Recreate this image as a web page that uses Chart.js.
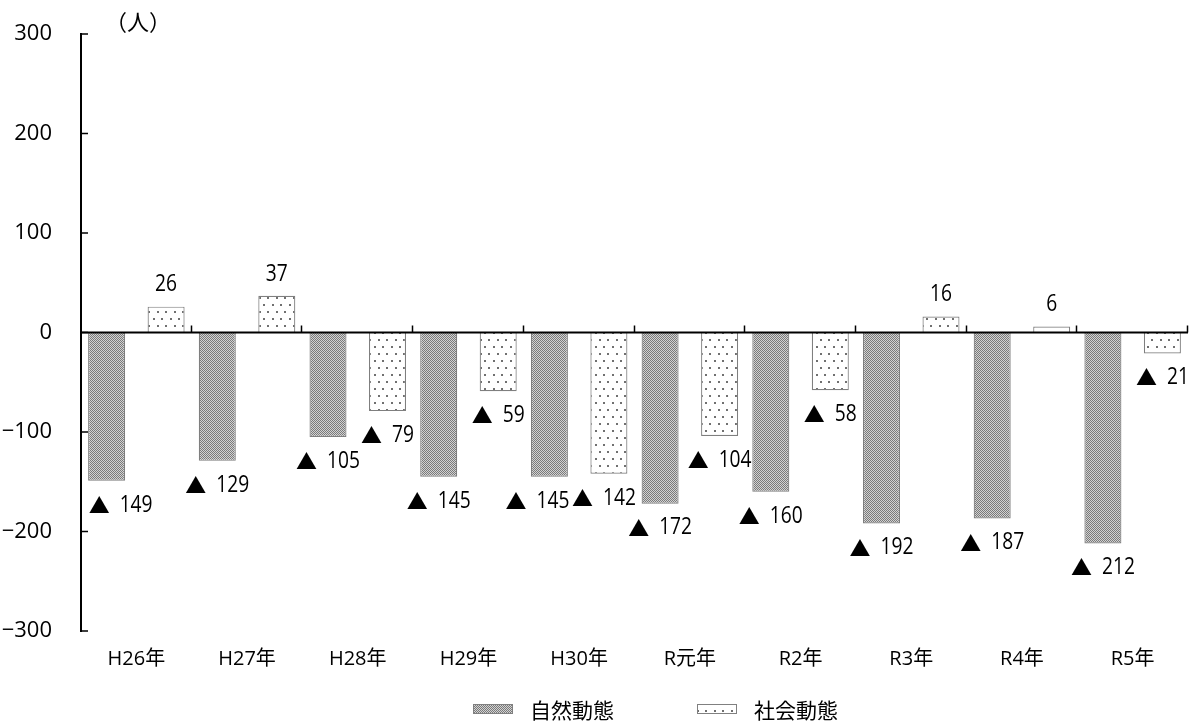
<!DOCTYPE html>
<html>
<head>
<meta charset="utf-8">
<script src="https://cdn.jsdelivr.net/npm/chart.js@4.4.1/dist/chart.umd.min.js"></script>
<style>
  html, body { margin: 0; padding: 0; background: #fff; }
  #wrap { width: 1193px; height: 722px; position: relative; }
</style>
</head>
<body>
<div id="wrap"><canvas id="c" width="1193" height="722"></canvas></div>
<script>
// 人口動態（自然動態・社会動態）の推移
const categories = ['H26年', 'H27年', 'H28年', 'H29年', 'H30年', 'R元年', 'R2年', 'R3年', 'R4年', 'R5年'];
const naturalChange = [-149, -129, -105, -145, -145, -172, -160, -192, -187, -212];
const socialChange = [26, 37, -79, -59, -142, -104, -58, 16, 6, -21];
const seriesNames = ['自然動態', '社会動態'];
const yTickValues = [-300, -200, -100, 0, 100, 200, 300];
const unitText = '（人）';

const NUM_FONT = "'Open Sans', 'Noto Sans', 'Noto Sans CJK JP', sans-serif";
const CJK_FONT = "'Noto Sans CJK JP', sans-serif";

const canvas = document.getElementById('c');
const mainCtx = canvas.getContext('2d');

// fine grey checker fill
function makeChecker() {
  const t = document.createElement('canvas');
  t.width = 4; t.height = 4;
  const g = t.getContext('2d');
  g.fillStyle = '#d2d2d2';
  g.fillRect(0, 0, 4, 4);
  g.fillStyle = '#7a7a7a';
  for (let y = 0; y < 4; y++) for (let x = 0; x < 4; x++) if ((x + y) % 2 === 0) g.fillRect(x, y, 1, 1);
  return mainCtx.createPattern(t, 'repeat');
}
// sparse staggered dots on white
function makeDots() {
  const t = document.createElement('canvas');
  t.width = 17; t.height = 14;
  const g = t.getContext('2d');
  g.fillStyle = '#ffffff';
  g.fillRect(0, 0, 17, 14);
  g.fillStyle = '#707070';
  [[4, 3], [12, 3], [0, 10], [8, 10]].forEach(([x, y]) => g.fillRect(x, y, 2, 2));
  return mainCtx.createPattern(t, 'repeat');
}
const checkerFill = makeChecker();
const dotFill = makeDots();

// zero line, inward ticks on both axes
const axisMarks = {
  id: 'axisMarks',
  afterDatasetsDraw(chart) {
    const { ctx, chartArea: a, scales: { x, y } } = chart;
    const y0 = y.getPixelForValue(0);
    ctx.save();
    ctx.strokeStyle = '#000';
    ctx.lineWidth = 2;
    ctx.beginPath();
    ctx.moveTo(a.left, y0);
    ctx.lineTo(a.right, y0);
    ctx.stroke();
    ctx.lineWidth = 1.5;
    const n = x.ticks.length;
    const step = (a.right - a.left) / n;
    ctx.beginPath();
    for (let i = 1; i <= n; i++) {
      const px = Math.round(a.left + i * step) - 0.5;
      ctx.moveTo(px, y0);
      ctx.lineTo(px, y0 - 7);
    }
    yTickValues.forEach(v => {
      const py = y.getPixelForValue(v);
      ctx.moveTo(a.left, py);
      ctx.lineTo(a.left + 7, py);
    });
    ctx.stroke();
    ctx.restore();
  }
};

// text squeezed horizontally around its anchor
function narrowText(ctx, text, x, y, align, squeeze) {
  ctx.save();
  ctx.translate(x, y);
  ctx.scale(squeeze, 1);
  ctx.textAlign = align;
  ctx.fillText(text, 0, 0);
  ctx.restore();
}

// value labels; negatives are written with ▲
const valueLabels = {
  id: 'valueLabels',
  afterDatasetsDraw(chart, args, opts) {
    const ctx = chart.ctx;
    const sq = opts.squeeze;
    ctx.save();
    ctx.fillStyle = '#000';
    ctx.textBaseline = 'middle';
    chart.data.datasets.forEach((ds, di) => {
      const meta = chart.getDatasetMeta(di);
      const shifts = opts.shift[di] || [];
      meta.data.forEach((bar, i) => {
        const v = ds.data[i];
        const cx = bar.x + (shifts[i] || 0);
        ctx.font = '24px ' + NUM_FONT;
        if (v < 0) {
          const num = String(Math.abs(v));
          const numW = ctx.measureText(num).width * sq;
          ctx.font = '21px ' + CJK_FONT;
          const triW = ctx.measureText('▲').width;
          const gap = 10;
          const left = cx - (triW + gap + numW) / 2;
          const ly = bar.y + 24;
          ctx.textAlign = 'left';
          ctx.fillText('▲', left, ly);
          ctx.font = '24px ' + NUM_FONT;
          narrowText(ctx, num, left + triW + gap, ly, 'left', sq);
        } else {
          narrowText(ctx, String(v), cx, bar.y - 22, 'center', sq);
        }
      });
    });
    ctx.restore();
  }
};

// unit caption and bottom legend
const decorations = {
  id: 'decorations',
  afterDraw(chart) {
    const { ctx, chartArea: a } = chart;
    ctx.save();
    ctx.fillStyle = '#000';
    ctx.textBaseline = 'middle';
    ctx.textAlign = 'center';
    ctx.font = '22px ' + CJK_FONT;
    ctx.fillText(unitText, a.left + 57, 22);

    const fills = [checkerFill, dotFill];
    const xs = [473, 697];
    const ly = 710;
    ctx.font = '21px ' + CJK_FONT;
    ctx.textAlign = 'left';
    seriesNames.forEach((name, i) => {
      ctx.fillStyle = fills[i];
      ctx.fillRect(xs[i], ly - 6, 40, 10);
      ctx.strokeStyle = '#808080';
      ctx.lineWidth = 1;
      ctx.strokeRect(xs[i] + 0.5, ly - 5.5, 39, 9);
      ctx.fillStyle = '#000';
      ctx.fillText(name, xs[i] + 57, ly);
    });
    ctx.restore();
  }
};

new Chart(canvas, {
  type: 'bar',
  data: {
    labels: categories,
    datasets: [
      {
        label: seriesNames[0],
        data: naturalChange,
        backgroundColor: checkerFill,
        borderColor: '#7f7f7f',
        borderWidth: 1.2,
        categoryPercentage: 1.075,
        barPercentage: 0.622
      },
      {
        label: seriesNames[1],
        data: socialChange,
        backgroundColor: dotFill,
        borderColor: '#7f7f7f',
        borderWidth: 1.2,
        categoryPercentage: 1.075,
        barPercentage: 0.622
      }
    ]
  },
  options: {
    responsive: false,
    animation: false,
    layout: { padding: { left: 0, right: 5, top: 34, bottom: 31 } },
    plugins: {
      legend: { display: false },
      tooltip: { enabled: false },
      valueLabels: {
        squeeze: 0.8,
        shift: [[14, 0, 0, 0, -12, 0, 0, 0, 0, 0], [0, 0, 0, 0, -5, 0, 0, 0, 0, 0]]
      }
    },
    scales: {
      x: {
        grid: { display: false, drawTicks: false },
        border: { display: false },
        ticks: { padding: 16, color: '#000', font: { family: NUM_FONT, size: 20 } },
        afterFit: s => { s.height = 60; }
      },
      y: {
        min: -300,
        max: 300,
        afterBuildTicks: s => { s.ticks = yTickValues.map(v => ({ value: v })); },
        afterFit: s => { s.width = 81; s.paddingTop = 0; s.paddingBottom = 0; },
        grid: { display: false, drawTicks: false },
        border: { display: true, color: '#000', width: 2 },
        ticks: {
          padding: 29,
          color: '#000',
          font: { family: NUM_FONT, size: 22 },
          callback: v => (v < 0 ? '−' + Math.abs(v) : String(v))
        }
      }
    }
  },
  plugins: [axisMarks, valueLabels, decorations]
});
</script>
</body>
</html>
